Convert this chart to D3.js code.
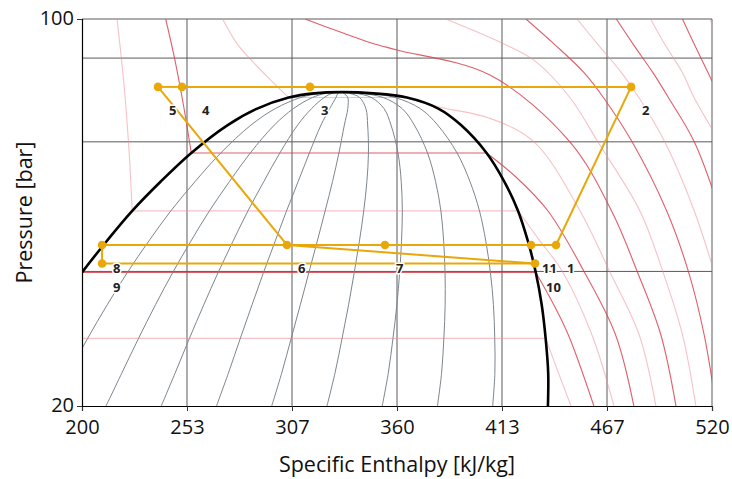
<!DOCTYPE html>
<html>
<head>
<meta charset="utf-8">
<script src="https://cdn.jsdelivr.net/npm/d3@7"></script>
<style>
  body { margin: 0; background: #fff; }
  text { font-family: "Open Sans", "Noto Sans", sans-serif; }
</style>
</head>
<body>
<div id="chart"></div>
<script>
// ---- data ----
// CO2 saturation table: pressure [bar], liquid / vapour enthalpy [kJ/kg]
const satP  = [19.70, 22.91, 26.49, 30.47, 34.85, 39.69, 45.02, 50.87, 57.29, 64.34, 68.9, 72.14, 73.4];
const satHL = [155, 166, 177, 188.3, 200, 212.5, 225.5, 240, 255.5, 274, 289, 305, 318];
const satHV = [436.6, 436.8, 435.5, 433.5, 430.5, 426.5, 421.5, 414.5, 405.5, 392.5, 381, 365, 348];
const critPoint = [332, 73.77];

// vapour quality lines inside the dome
const qualities = [0.1, 0.2, 0.3, 0.4, 0.5, 0.6, 0.7, 0.8, 0.9];

// isotherms, [h, p] pieces (liquid / two-phase / vapour)
const isoM10 = [[[177, 26.49], [435.5, 26.49]], [[435.5, 26.49], [441.5, 23.2], [448.4, 20]]];
const iso0   = [[[200, 34.85], [430.5, 34.85]], [[430.5, 34.85], [438.5, 31], [447, 26.9], [460, 20]]];
const iso10  = [[[217.8, 100], [221.5, 75], [224, 57], [225.5, 45.02]],
                [[225.5, 45.02], [421.5, 45.02]],
                [[421.5, 45.02], [432, 40], [444, 35], [459, 26.9], [470.2, 20]]];
const iso20  = [[[242.5, 100], [247, 85], [251.5, 70], [255.5, 57.29]],
                [[255.5, 57.29], [405.5, 57.29]],
                [[405.5, 57.29], [420, 52], [436.7, 45], [455, 35], [471, 26.9], [480.3, 20]]];
const iso30  = [[[271.4, 100], [279, 90], [287, 83.5], [296, 77.5], [305, 72.14]],
                [[305, 72.14], [365, 72.14]],
                [[365, 72.14], [382, 69.3], [407, 66.2], [429.6, 60], [453, 45], [468, 35], [483, 26.9], [491.5, 20]]];
const iso40  = [[[313.3, 100], [330.5, 94.9], [347, 90.5], [360, 87.9], [407.2, 79.2], [447.8, 60], [469, 45], [482, 35], [494, 26.9], [501.7, 20]]];
const iso50  = [[[384.7, 100], [413.3, 90.5], [430, 84], [448, 72], [462, 60], [483.4, 45], [495, 35], [505, 26.9], [511.8, 20]]];
const iso60  = [[[425.5, 100], [440, 90], [455, 80], [465, 72], [479.4, 60], [497, 45], [508, 35], [516, 26.9], [522, 20]]];
const iso70  = [[[451.4, 100], [462, 90], [474, 80], [483, 72], [496, 60], [511, 45], [521, 35]]];
const iso80  = [[[471.4, 100], [480, 90], [490, 80], [498, 72], [511, 60], [524, 45]]];
const iso90  = [[[488.8, 100], [496, 90], [505, 80], [511, 72], [524, 60]]];
const iso100 = [[[505, 100], [511, 90], [518, 80], [524, 72]]];
const iso110 = [[[519, 100], [524, 90]]];

const isoTemps = [-10, 0, 10, 20, 30, 40, 50, 60, 70, 80, 90, 100, 110];
const isoPieces = [isoM10, iso0, iso10, iso20, iso30, iso40, iso50, iso60, iso70, iso80, iso90, iso100, iso110];

// cycle state points
const stateNames = ["1", "2", "3", "4", "5", "6", "7", "8", "9", "10", "11"];
const stateH = [440.8, 478.9, 315.8, 250.8, 238.6, 304.1, 353.9, 210.2, 210.2, 430.1, 428.1];
const stateP = [39.07, 75.4, 75.4, 75.4, 75.4, 39.07, 39.07, 39.07, 36.17, 36.17, 39.07];
// connections between states
const cycleLinks = [["1", "2"], ["2", "3"], ["3", "4"], ["4", "5"], ["5", "6"], ["6", "7"], ["7", "11"],
                    ["11", "1"], ["6", "8"], ["8", "9"], ["9", "10"], ["6", "10"]];

const xTicks = [200, 253.33, 306.67, 360, 413.33, 466.67, 520];
const yTicks = [20, 100];
const yGrid = [35, 60, 85, 100];

// ---- layout ----
const width = 732, height = 479;
const margin = { top: 19, right: 20, bottom: 73, left: 82 };

const svg = d3.select("#chart").append("svg")
  .attr("width", width)
  .attr("height", height);

const x = d3.scaleLinear().domain([200, 520]).range([margin.left, width - margin.right]);
const y = d3.scaleLog().domain([20, 100]).range([height - margin.bottom, margin.top]);

svg.append("clipPath").attr("id", "plot-clip")
  .append("rect")
  .attr("x", margin.left).attr("y", margin.top)
  .attr("width", width - margin.left - margin.right)
  .attr("height", height - margin.top - margin.bottom);

const line = d3.line()
  .x(d => x(d[0]))
  .y(d => y(d[1]))
  .curve(d3.curveCatmullRom.alpha(0.5));

// grid
const grid = svg.append("g").attr("class", "grid").attr("stroke", "#5a5a5a").attr("stroke-width", 1);
grid.selectAll(".vgrid").data(xTicks.slice(1))
  .enter().append("line")
  .attr("x1", d => x(d)).attr("x2", d => x(d))
  .attr("y1", y(100)).attr("y2", y(20));
grid.selectAll(".hgrid").data(yGrid)
  .enter().append("line")
  .attr("x1", x(200)).attr("x2", x(520))
  .attr("y1", d => y(d)).attr("y2", d => y(d));

const plot = svg.append("g").attr("clip-path", "url(#plot-clip)");

// isotherms
isoPieces.forEach((pieces, i) => {
  const dark = isoTemps[i] % 20 === 0;
  plot.append("g")
    .selectAll("path")
    .data(pieces)
    .enter().append("path")
    .attr("d", line)
    .attr("fill", "none")
    .attr("stroke", dark ? "#d9434f" : "#ee8f98")
    .attr("stroke-opacity", dark ? 0.85 : 0.55)
    .attr("stroke-width", 1.1);
});

// quality lines
const qualityLines = qualities.map(q =>
  satP.map((p, i) => [satHL[i] + q * (satHV[i] - satHL[i]), p]).concat([critPoint]));
plot.append("g")
  .selectAll("path")
  .data(qualityLines)
  .enter().append("path")
  .attr("d", line)
  .attr("fill", "none")
  .attr("stroke", "#7d868e")
  .attr("stroke-width", 1);

// saturation dome
const dome = satP.map((p, i) => [satHL[i], p])
  .concat([critPoint])
  .concat(satP.map((p, i) => [satHV[i], p]).reverse());
plot.append("path")
  .attr("d", line(dome))
  .attr("fill", "none")
  .attr("stroke", "#000")
  .attr("stroke-width", 2.6);

// axes
const xAxis = svg.append("g")
  .attr("transform", `translate(0,${y(20)})`)
  .call(d3.axisBottom(x).tickValues(xTicks).tickFormat(d3.format(".0f")).tickSizeOuter(0).tickSize(5));
const yAxis = svg.append("g")
  .attr("transform", `translate(${x(200)},0)`)
  .call(d3.axisLeft(y).tickValues(yTicks).tickFormat(d3.format("d")).tickSizeOuter(0).tickSize(5));
[xAxis, yAxis].forEach(a => {
  a.selectAll("text").attr("font-size", 20).attr("fill", "#111")
    .style("font-family", "'Open Sans', 'Noto Sans', sans-serif");
  a.select(".domain").attr("stroke", "#000").attr("stroke-width", 1.2);
  a.selectAll(".tick line").attr("stroke", "#333");
});
xAxis.selectAll("text").attr("dy", "1em");
yAxis.selectAll("text").attr("dy", "0.28em");

svg.append("text")
  .attr("x", (x(200) + x(520)) / 2)
  .attr("y", 472)
  .attr("text-anchor", "middle")
  .attr("font-size", 21.5)
  .attr("fill", "#111")
  .text("Specific Enthalpy [kJ/kg]");

svg.append("text")
  .attr("transform", `translate(32,${(y(20) + y(100)) / 2}) rotate(-90)`)
  .attr("text-anchor", "middle")
  .attr("font-size", 21.5)
  .attr("fill", "#111")
  .text("Pressure [bar]");

// cycle
const states = stateNames.map((n, i) => ({ name: n, h: stateH[i], p: stateP[i] }));
const byName = new Map(states.map(s => [s.name, s]));
const orange = "#e8a70a";

svg.append("g")
  .selectAll("line")
  .data(cycleLinks)
  .enter().append("line")
  .attr("x1", d => x(byName.get(d[0]).h)).attr("y1", d => y(byName.get(d[0]).p))
  .attr("x2", d => x(byName.get(d[1]).h)).attr("y2", d => y(byName.get(d[1]).p))
  .attr("stroke", orange)
  .attr("stroke-width", 2);

svg.append("g")
  .selectAll("circle")
  .data(states)
  .enter().append("circle")
  .attr("cx", d => x(d.h)).attr("cy", d => y(d.p))
  .attr("r", 4.3)
  .attr("fill", orange);

// label nudges (label 4 sits further right in the reference)
const labelDx = { "4": 20 };
svg.append("g")
  .selectAll("text")
  .data(states)
  .enter().append("text")
  .attr("x", d => x(d.h) + (labelDx[d.name] || 11))
  .attr("y", d => y(d.p) + 28)
  .attr("font-size", 13)
  .attr("font-weight", "bold")
  .attr("fill", "#222")
  .attr("stroke", "#fff")
  .attr("stroke-width", 3)
  .attr("paint-order", "stroke")
  .text(d => d.name);
</script>
</body>
</html>
